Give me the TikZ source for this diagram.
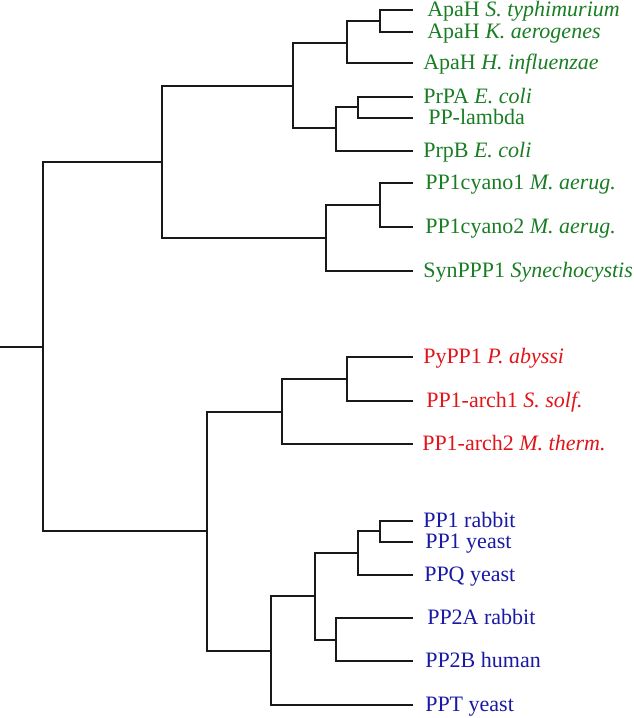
\documentclass[tikz,border=0pt]{standalone}
\usepackage{fontspec}
\setmainfont{Liberation Serif}
\newfontfamily\tms{Liberation Serif}
\definecolor{tgreen}{RGB}{25,125,35}
\definecolor{tred}{RGB}{225,20,25}
\definecolor{tblue}{RGB}{25,25,165}
\begin{document}
\begin{tikzpicture}[x=0.75pt,y=-0.75pt,
  edge/.style={draw=black!90, line width=1.8pt, line join=miter},
  lbl/.style={anchor=base west, inner sep=0pt, font=\tms\fontsize{16.5}{18}\selectfont},
  gl/.style={lbl, text=tgreen},
  rl/.style={lbl, text=tred},
  bl/.style={lbl, text=tblue}]
\useasboundingbox (0,0) rectangle (633,718);
% internal nodes
\coordinate (r0) at (0,347);
\coordinate (root) at (43,347);
\coordinate (G) at (162,162);
\coordinate (B) at (207,531);
\coordinate (G1) at (293,86);
\coordinate (G2) at (326,238);
\coordinate (G1a) at (347,43);
\coordinate (G1b) at (336,128);
\coordinate (G1aa) at (380,21);
\coordinate (G1ba) at (358,107);
\coordinate (G2a) at (380,205);
\coordinate (R) at (282,412);
\coordinate (Ra) at (347,379);
\coordinate (U) at (271,651);
\coordinate (U1) at (315,596);
\coordinate (U1a) at (358,553);
\coordinate (U1aa) at (380,531);
\coordinate (U1b) at (336,640);
% leaves
\coordinate (L1) at (413,10);
\coordinate (L2) at (413,32);
\coordinate (L3) at (413,63);
\coordinate (L4) at (413,97);
\coordinate (L5) at (413,118);
\coordinate (L6) at (413,151);
\coordinate (L7) at (413,183);
\coordinate (L8) at (413,227);
\coordinate (L9) at (413,271);
\coordinate (L10) at (413,357);
\coordinate (L11) at (413,401);
\coordinate (L12) at (413,444);
\coordinate (L13) at (413,521);
\coordinate (L14) at (413,542);
\coordinate (L15) at (413,575);
\coordinate (L16) at (413,618);
\coordinate (L17) at (413,661);
\coordinate (L18) at (413,705);
% edges
\draw[edge] (r0) -- (root);
\draw[edge] (root) |- (G);
\draw[edge] (root) |- (B);
\draw[edge] (G) |- (G1);
\draw[edge] (G) |- (G2);
\draw[edge] (G1) |- (G1a);
\draw[edge] (G1) |- (G1b);
\draw[edge] (G1a) |- (G1aa);
\draw[edge] (G1a) |- (L3);
\draw[edge] (G1aa) |- (L1);
\draw[edge] (G1aa) |- (L2);
\draw[edge] (G1b) |- (G1ba);
\draw[edge] (G1b) |- (L6);
\draw[edge] (G1ba) |- (L4);
\draw[edge] (G1ba) |- (L5);
\draw[edge] (G2) |- (G2a);
\draw[edge] (G2) |- (L9);
\draw[edge] (G2a) |- (L7);
\draw[edge] (G2a) |- (L8);
\draw[edge] (B) |- (R);
\draw[edge] (B) |- (U);
\draw[edge] (R) |- (Ra);
\draw[edge] (R) |- (L12);
\draw[edge] (Ra) |- (L10);
\draw[edge] (Ra) |- (L11);
\draw[edge] (U) |- (U1);
\draw[edge] (U) |- (L18);
\draw[edge] (U1) |- (U1a);
\draw[edge] (U1) |- (U1b);
\draw[edge] (U1a) |- (U1aa);
\draw[edge] (U1a) |- (L15);
\draw[edge] (U1aa) |- (L13);
\draw[edge] (U1aa) |- (L14);
\draw[edge] (U1b) |- (L16);
\draw[edge] (U1b) |- (L17);
% labels
\node[gl] (t1) at (427,16) {ApaH \textit{S. typhimurium}};
\node[gl] (t2) at (427,38) {ApaH \textit{K. aerogenes}};
\node[gl] (t3) at (423,69) {ApaH \textit{H. influenzae}};
\node[gl] (t4) at (423,103) {PrPA \textit{E. coli}};
\node[gl] (t5) at (428,124) {PP-lambda};
\node[gl] (t6) at (423,157) {PrpB \textit{E. coli}};
\node[gl] (t7) at (425,189) {PP1cyano1 \textit{M. aerug.}};
\node[gl] (t8) at (425,233) {PP1cyano2 \textit{M. aerug.}};
\node[gl] (t9) at (423,277) {SynPPP1 \textit{Synechocystis}};
\node[rl] (t10) at (423,363) {PyPP1 \textit{P. abyssi}};
\node[rl] (t11) at (426,407) {PP1-arch1 \textit{S. solf.}};
\node[rl] (t12) at (422,450) {PP1-arch2 \textit{M. therm.}};
\node[bl] (t13) at (423,527) {PP1 rabbit};
\node[bl] (t14) at (425,548) {PP1 yeast};
\node[bl] (t15) at (424,581) {PPQ yeast};
\node[bl] (t16) at (427,624) {PP2A rabbit};
\node[bl] (t17) at (425,667) {PP2B human};
\node[bl] (t18) at (425,711) {PPT yeast};
\end{tikzpicture}
\end{document}
